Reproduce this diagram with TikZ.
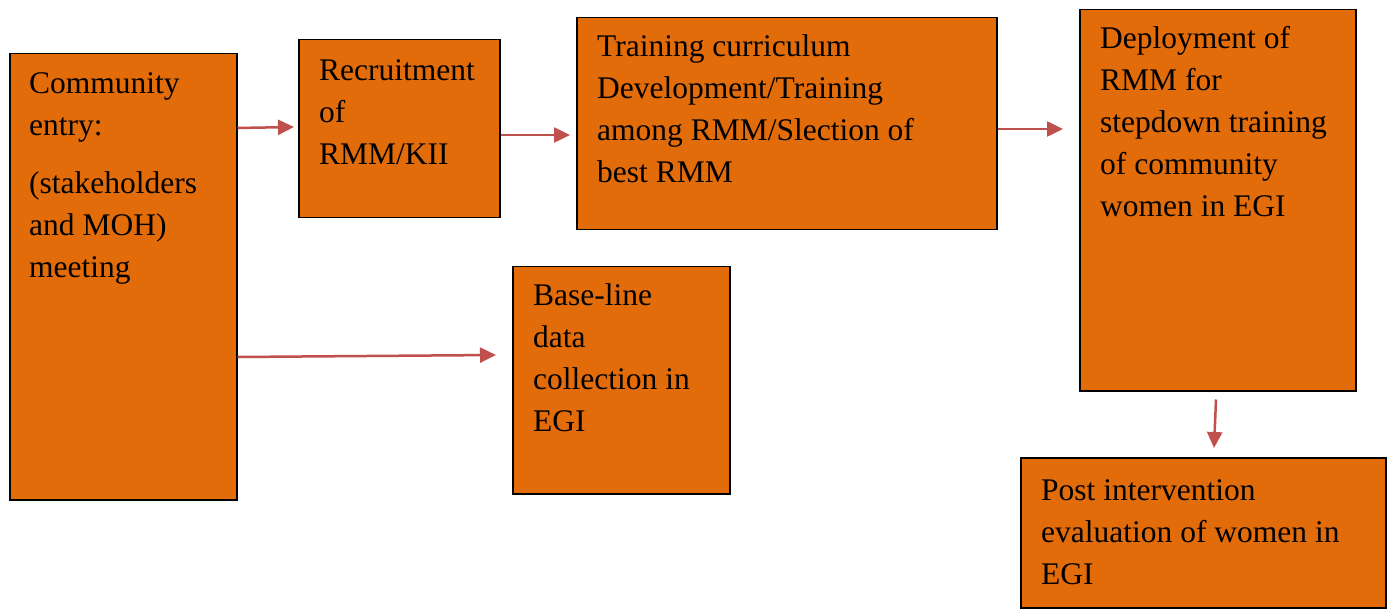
\documentclass[tikz,border=0pt]{standalone}
\usepackage{fontspec}
\setmainfont{Liberation Serif}
\usetikzlibrary{arrows.meta,calc}
\definecolor{boxfill}{HTML}{E36C0A}
\definecolor{arrowred}{HTML}{C0504D}
\newcommand{\firststrut}{\rule{0pt}{25pt}}
\begin{document}
\begin{tikzpicture}[x=1pt,y=-1pt,
  box/.style={draw=black,line width=1.5pt,fill=boxfill,inner sep=0pt,anchor=north west},
  txt/.style={anchor=north west,inner sep=0pt,align=left,font=\fontsize{31.5}{42}\selectfont},
  arr/.style={draw=arrowred,line width=2.5pt,-{Triangle[length=16pt,width=15pt]}}]
\useasboundingbox (0,0) rectangle (1391,609);
\node[box,minimum width=227pt,minimum height=446pt] (comm) at (9,53) {};
\node[box,minimum width=201pt,minimum height=178pt] (recr) at (298,39) {};
\node[box,minimum width=420pt,minimum height=212pt] (train) at (576,17) {};
\node[box,minimum width=276pt,minimum height=381pt] (depl) at (1079,9) {};
\node[box,minimum width=217pt,minimum height=227pt] (base) at (512,266) {};
\node[box,minimum width=365pt,minimum height=150pt] (post) at (1020,457) {};
\node[txt] (commt) at ($(comm.north west)+(20,15)$) {\firststrut Community\\entry:\\[16pt](stakeholders\\and MOH)\\meeting};
\node[txt] (recrt) at ($(recr.north west)+(21,16)$) {\firststrut Recruitment\\of\\RMM/KII};
\node[txt] (traint) at ($(train.north west)+(21,14)$) {\firststrut Training curriculum\\Development/Training\\among RMM/Slection of\\best RMM};
\node[txt] (deplt) at ($(depl.north west)+(21,14)$) {\firststrut Deployment of\\RMM for\\stepdown training\\of community\\women in EGI};
\node[txt] (baset) at ($(base.north west)+(21,14)$) {\firststrut Base-line\\data\\collection in\\EGI};
\node[txt] (postt) at ($(post.north west)+(21,18)$) {\firststrut Post intervention\\evaluation of women in\\EGI};
\coordinate (c1) at ($(comm.north east)+(0,75)$);
\coordinate (r1) at ($(recr.north west)+(-4,88)$);
\draw[arr] (c1) -- (r1);
\coordinate (r2) at ($(recr.north east)+(0,96)$);
\coordinate (t1) at ($(train.north west)+(-6,118)$);
\draw[arr] (r2) -- (t1);
\coordinate (c2) at ($(comm.north east)+(0,304)$);
\coordinate (b1) at ($(base.north west)+(-16,89)$);
\draw[arr] (c2) -- (b1);
\coordinate (t2) at ($(train.north east)+(0,112)$);
\coordinate (d1) at ($(depl.north west)+(-16,120)$);
\draw[arr] (t2) -- (d1);
\coordinate (d2) at ($(depl.south west)+(137,8)$);
\coordinate (p1) at ($(post.north west)+(194,-9)$);
\draw[arr] (d2) -- (p1);
\end{tikzpicture}
\end{document}
